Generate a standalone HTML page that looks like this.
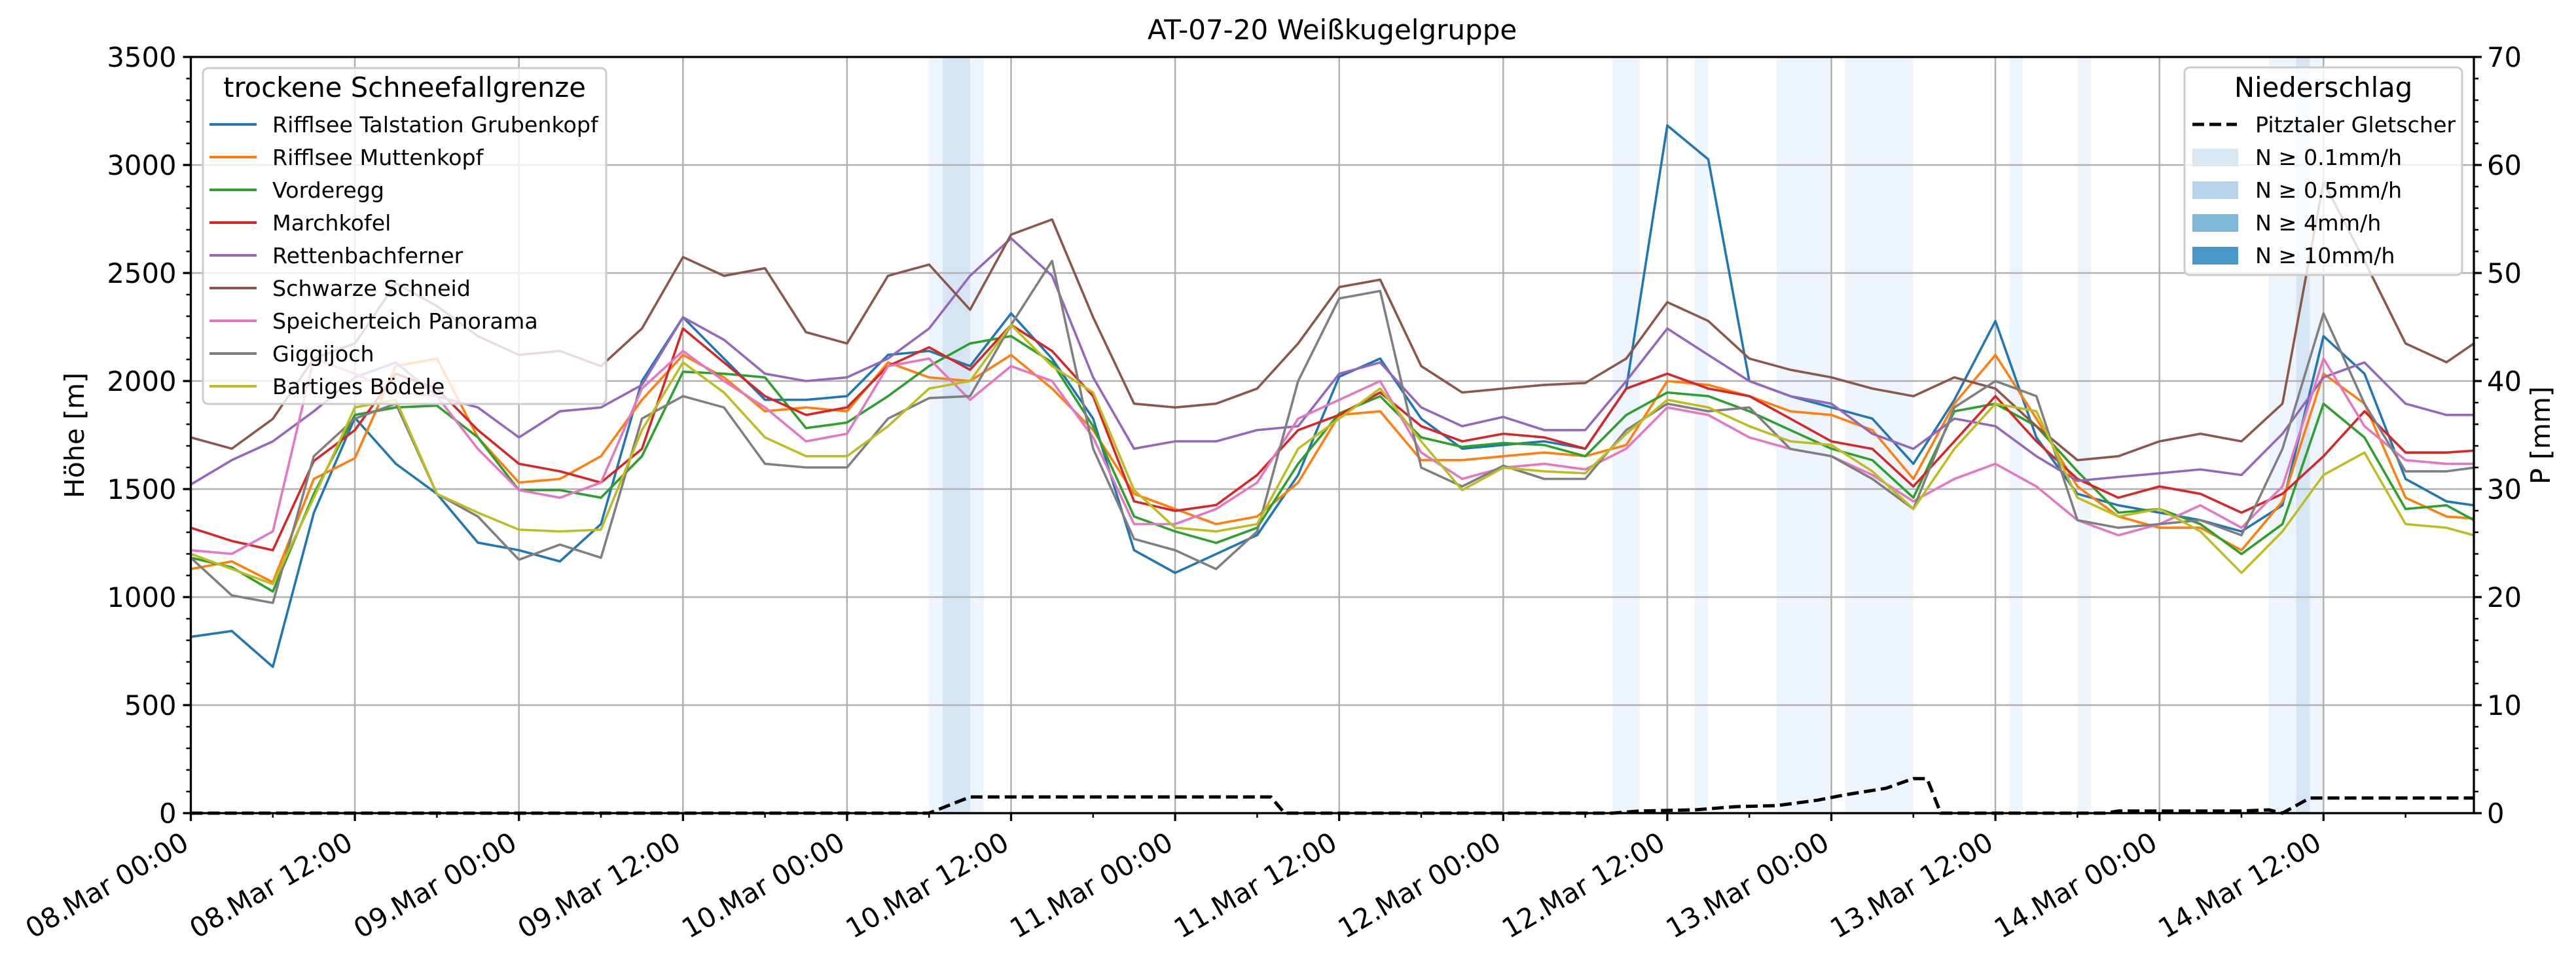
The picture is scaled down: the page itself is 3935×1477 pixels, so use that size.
<!DOCTYPE html>
<html><head><meta charset="utf-8">
<style>
html,body{margin:0;padding:0;background:#fff;}
svg{display:block;font-family:"DejaVu Sans","Liberation Sans",sans-serif;}
</style></head>
<body>
<svg id="chart" width="3935" height="1477" viewBox="0 0 3935 1477" xmlns="http://www.w3.org/2000/svg">
<rect x="0" y="0" width="3935" height="1477" fill="#fff"/>
<g id="bands"></g>
<g id="grid"></g>
<g id="series"></g>
<g id="axes"></g>
<text x="2035" y="60" text-anchor="middle" font-size="42">AT-07-20 Weißkugelgruppe</text>
<text transform="translate(128,665) rotate(-90)" text-anchor="middle" font-size="41">Höhe [m]</text>
<text transform="translate(3895,665) rotate(-90)" text-anchor="middle" font-size="41">P [mm]</text>
<g id="legend1"></g>
<g id="legend2"></g>
</svg>
<script>
// ---- data ----
const hours = [0,3,6,9,12,15,18,21,24,27,30,33,36,39,42,45,48,51,54,57,60,63,66,69,72,75,78,81,84,87,90,93,96,99,102,105,108,111,114,117,120,123,126,129,132,135,138,141,144,147,150,153,156,159,162,165,167];
const stationNames = ["Rifflsee Talstation Grubenkopf","Rifflsee Muttenkopf","Vorderegg","Marchkofel","Rettenbachferner","Schwarze Schneid","Speicherteich Panorama","Giggijoch","Bartiges Bödele"];
const blueVals = [816,843,677,1390,1830,1617,1478,1252,1217,1165,1338,2000,2295,2104,1913, 1913,1930,2121,2139,2069,2313,2104,1826,1217,1112,1199,1287,1565,2020, 2104,1826,1687,1704,1721,1687,1965,3183,3026,2000,1930,1878, 1826,1617,1913,2278,1739,1478,1425,1391,1356,1304,1425,2208,2034,1547,1443,1425];
const orangeVals = [1130,1165,1069,1547,1643,2069,2104,1739,1530,1547,1652,1913,2121,2017,1860, 1878,1860,2086,2017,2000,2121,1965,1773,1478,1408,1338,1373,1530,1843, 1860,1634,1634,1652,1669,1652,1704,2000,1982,1930,1860,1843, 1773,1547,1895,2121,1826,1512,1373,1321,1321,1217,1443,2034,1895,1460,1373,1364];
const greenVals = [1182,1138,1026,1478,1843,1878,1886,1739,1495,1495,1460,1652,2043,2034,2017, 1782,1808,1930,2069,2174,2208,2086,1791,1373,1304,1251,1321,1617,1850, 1930,1739,1695,1713,1704,1652,1843,1947,1930,1860,1773,1687, 1634,1460,1860,1895,1791,1582,1391,1408,1338,1199,1338,1895,1739,1408,1425,1356];
const redVals = [1321,1260,1217,1630,1773,2034,1965,1773,1617,1582,1530,1686,2243,2086,1930, 1843,1878,2069,2156,2052,2260,2139,1930,1443,1399,1426,1565,1773,1843, 1947,1791,1721,1756,1739,1687,1965,2034,1965,1930,1826,1721, 1686,1512,1721,1930,1721,1547,1460,1512,1478,1391,1478,1652,1860,1669,1669,1678];
const purpleVals = [1521,1634,1721,1860,2017,2086,1930,1878,1739,1860,1878,1982,2295,2191,2034, 2000,2017,2104,2243,2487,2661,2487,2017,1687,1721,1721,1773,1791,2034, 2086,1878,1791,1834,1773,1773,2000,2243,2121,2000,1930,1895, 1756,1686,1826,1791,1652,1538,1556,1573,1591,1565,1756,2017,2086,1895,1843,1843];
const brownVals = [1739,1687,1825,2104,2174,2452,2347,2208,2121,2139,2069,2243,2574,2487,2522, 2226,2174,2487,2539,2330,2678,2748,2295,1895,1878,1895,1965,2174,2435, 2469,2069,1947,1965,1982,1991,2104,2365,2278,2104,2052,2017, 1965,1930,2017,1965,1791,1634,1652,1721,1756,1721,1895,2922,2556,2174,2087,2174];
const pinkVals = [1217,1200,1304,2104,2034,1947,1930,1686,1495,1460,1530,1965,2139,2000,1878, 1721,1756,2069,2104,1913,2069,2000,1739,1338,1338,1408,1530,1826,1913, 2000,1669,1547,1599,1617,1591,1687,1878,1843,1739,1686,1652, 1565,1443,1547,1617,1512,1356,1286,1338,1425,1321,1512,2104,1791,1634,1617,1617];
const grayVals = [1182,1008,973,1652,1826,1895,1478,1373,1173,1243,1182,1826,1930,1878,1617, 1600,1600,1826,1921,1930,2260,2556,1687,1269,1217,1130,1304,2000,2382, 2417,1599,1512,1608,1547,1547,1773,1895,1860,1878,1686,1652, 1547,1408,1878,2000,1930,1356,1321,1338,1356,1286,1686,2313,1895,1582,1582,1599];
const yellowVals = [1200,1130,1060,1460,1878,1913,1478,1391,1312,1304,1312,1773,2086,1947,1739, 1652,1652,1791,1965,2000,2260,2069,1947,1495,1321,1304,1338,1687,1826, 1965,1721,1495,1599,1582,1573,1756,1913,1878,1791,1721,1704, 1582,1408,1686,1895,1860,1460,1373,1408,1304,1112,1304,1565,1669,1338,1321,1286];
const precipHours = [0,54,57,79,80,104,106,110,113,116,119,121,124,126,127,128,140,141,150,152,153,155,167];
const precipVals = [0,0,1.5,1.5,0,0,0.2,0.3,0.6,0.7,1.2,1.7,2.3,3.2,3.2,0,0,0.2,0.2,0.3,0,1.4,1.4];
const bandStarts = [54,55,104,110,116,121,133,138,152,154];
const bandEnds = [58,57,106,111,120,126,134,139,156,155];
const bandLevels = [0.1,0.5,0.1,0.1,0.1,0.1,0.1,0.1,0.1,0.5];
const xTickLabels = ["08.Mar 00:00","08.Mar 12:00","09.Mar 00:00","09.Mar 12:00","10.Mar 00:00","10.Mar 12:00","11.Mar 00:00","11.Mar 12:00","12.Mar 00:00","12.Mar 12:00","13.Mar 00:00","13.Mar 12:00","14.Mar 00:00","14.Mar 12:00"];
const yTicks = [0,500,1000,1500,2000,2500,3000,3500];
const y2Ticks = [0,10,20,30,40,50,60,70];

// ---- layout ----
const L=291.5,R=3779,T=87,B=1242,XMAX=167;
const NS="http://www.w3.org/2000/svg";
const xs=h=>L+(R-L)*h/XMAX;
const ys=v=>B-(B-T)*v/3500;
const ys2=v=>B-(B-T)*v/70;
function mk(tag,attrs,parent){const e=document.createElementNS(NS,tag);for(const k in attrs)e.setAttribute(k,attrs[k]);parent.appendChild(e);return e;}
const colors=["#1f77b4","#ff7f0e","#2ca02c","#d62728","#9467bd","#8c564b","#e377c2","#7f7f7f","#bcbd22"];
const allVals=[blueVals,orangeVals,greenVals,redVals,purpleVals,brownVals,pinkVals,grayVals,yellowVals];
const levelColor={0.1:"#eef4fb",0.5:"#d6e5f3",4:"#7fb7d9",10:"#4a97c9"};

// bands
const gB=document.getElementById('bands');
bandStarts.forEach((s,i)=>{
  const r=mk('rect',{x:xs(s),y:T,width:xs(bandEnds[i])-xs(s),height:B-T,fill:levelColor[bandLevels[i]]},gB);
  
  
});
// grid
const gG=document.getElementById('grid');
for(let i=0;i*12<=XMAX;i++){
  const l=mk('line',{x1:xs(i*12),x2:xs(i*12),y1:T,y2:B,stroke:"#b0b0b0","stroke-width":2.5},gG);
  
  
}
yTicks.forEach(v=>{
  const l=mk('line',{x1:L,x2:R,y1:ys(v),y2:ys(v),stroke:"#b0b0b0","stroke-width":2.5},gG);
  
  
});
// series
const gS=document.getElementById('series');
allVals.forEach((vals,si)=>{
  const d=vals.map((v,i)=>(i?'L':'M')+xs(hours[i]).toFixed(1)+','+ys(v).toFixed(1)).join(' ');
  const p=mk('path',{d:d,fill:"none",stroke:colors[si],"stroke-width":3.6,"stroke-linejoin":"round"},gS);
  
  
});
const pd=precipVals.map((v,i)=>(i?'L':'M')+xs(precipHours[i]).toFixed(1)+','+ys2(v).toFixed(1)).join(' ');
const pl=mk('path',{d:pd,fill:"none",stroke:"#000","stroke-width":5,"stroke-dasharray":"18,8"},gS);



// axes
const gA=document.getElementById('axes');
mk('rect',{x:L,y:T,width:R-L,height:B-T,fill:"none",stroke:"#000","stroke-width":3.3},gA);
for(let v=0;v<=3500;v+=100){
  const major=v%500===0;
  mk('line',{x1:L,x2:L-(major?12:7),y1:ys(v),y2:ys(v),stroke:"#000","stroke-width":major?3.3:2.5},gA);
}
yTicks.forEach(v=>{
  const t=mk('text',{x:L-22,y:ys(v)+15,"text-anchor":"end","font-size":41.7},gA);
  t.textContent=v;
  
  
});
for(let v=0;v<=70;v+=2){
  const major=v%10===0;
  mk('line',{x1:R,x2:R+(major?12:7),y1:ys2(v),y2:ys2(v),stroke:"#000","stroke-width":major?3.3:2.5},gA);
}
y2Ticks.forEach(v=>{
  const t=mk('text',{x:R+20,y:ys2(v)+15,"text-anchor":"start","font-size":41.7},gA);
  t.textContent=v;
  
  
});
for(let h=0;h<=XMAX;h+=6){
  const major=h%12===0;
  mk('line',{x1:xs(h),x2:xs(h),y1:B,y2:B+(major?12:7),stroke:"#000","stroke-width":major?3.3:2.5},gA);
}
xTickLabels.forEach((lab,i)=>{
  const x=xs(i*12)-16,y=B+26;
  const t=mk('text',{x:x,y:y,"text-anchor":"end","dominant-baseline":"hanging","font-size":41.7,transform:`rotate(-30 ${x} ${y})`},gA);
  t.textContent=lab;
  
  
});

// legend 1
const g1=document.getElementById('legend1');
mk('rect',{x:310,y:104,width:616,height:513,rx:8,fill:"#fff","fill-opacity":0.8,stroke:"#cccccc","stroke-width":3},g1);
const lt=mk('text',{x:618,y:148,"text-anchor":"middle","font-size":41.7},g1);
lt.textContent="trockene Schneefallgrenze";


stationNames.forEach((n,i)=>{
  const y=190+i*50;
  mk('line',{x1:320,x2:392,y1:y,y2:y,stroke:colors[i],"stroke-width":4},g1);
  const t=mk('text',{x:416,y:y+12,"font-size":33.3},g1);
  t.textContent=n;
  
  
});
// legend 2
const g2=document.getElementById('legend2');
mk('rect',{x:3337,y:103,width:424,height:317,rx:8,fill:"#fff","fill-opacity":0.8,stroke:"#cccccc","stroke-width":3},g2);
const lt2=mk('text',{x:3549,y:148,"text-anchor":"middle","font-size":41.7},g2);
lt2.textContent="Niederschlag";


mk('line',{x1:3349,x2:3417,y1:190,y2:190,stroke:"#000","stroke-width":5,"stroke-dasharray":"18,8"},g2);
const tp=mk('text',{x:3445,y:202,"font-size":33.3},g2);
tp.textContent="Pitztaler Gletscher";


const patchLabels=["N ≥ 0.1mm/h","N ≥ 0.5mm/h","N ≥ 4mm/h","N ≥ 10mm/h"];
const patchColors=["#d8e7f4","#b7d4ea","#7fb7d9","#4a97c9"];
patchLabels.forEach((lab,i)=>{
  const y=240+i*50;
  mk('rect',{x:3349,y:y-13,width:70,height:27,fill:patchColors[i]},g2);
  const t=mk('text',{x:3445,y:y+12,"font-size":33.3},g2);
  t.textContent=lab;
  
  
});
</script>
</body></html>
